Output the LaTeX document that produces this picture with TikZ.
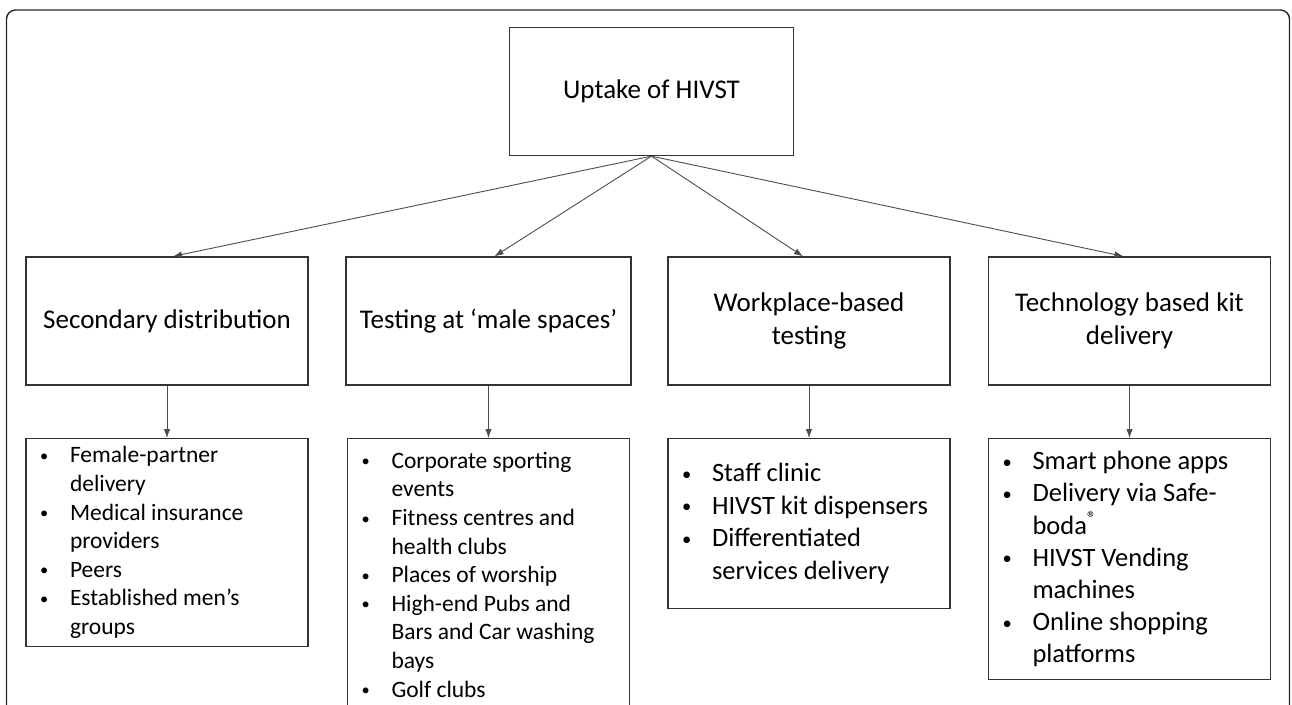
\documentclass[tikz,border=0pt]{standalone}
\usepackage{fontspec}
\usepackage{graphicx}
\setmainfont{Carlito}
\usetikzlibrary{arrows.meta}

\tikzset{
    box/.style={draw=black!80, line width=1.3pt, minimum width=282pt, inner xsep=14pt, inner ysep=0pt},
    head/.style={box, minimum height=128pt, align=flush center, font=\fontsize{27}{33}\selectfont},
    listbox/.style={box, anchor=north, text width=254pt, align=flush left},
    link/.style={draw=black!70, line width=0.9pt, -{Latex[length=9pt,width=6.5pt]}}
}
\newcommand{\bitem}[1]{\noindent\hangindent=30pt\hangafter=1\makebox[30pt][l]{\raisebox{0.06em}{\scalebox{0.7}{\textbullet}}}#1\par}

\begin{document}
\begin{tikzpicture}[x=1pt, y=-1pt]
                \useasboundingbox (0,0) rectangle (1292,704);

                % frame round the figure
                \draw[black!85, line width=1.4pt, rounded corners=9pt] (6.5,730) -- (6.5,10) -- (1289.5,10) -- (1289.5,730);

                \node[head, minimum width=284pt] (uptake) at (651.5,91.5) {Uptake of HIVST};

                \node[head] (secondary) at (167,321) {Secondary distribution};
                \node[head] (male) at (488.5,321) {Testing at `male spaces'};
                \node[head] (work) at (809,321) {Workplace-based\\testing};
                \node[head] (tech) at (1129.5,321) {Technology based kit\\delivery};

                \node[listbox, minimum height=208pt, font=\fontsize{23.5}{28.6}\selectfont] (secondarylist) at (167,438) {%
                    \bitem{Female-partner\newline delivery}
                    \bitem{Medical insurance\newline providers}
                    \bitem{Peers}
                    \bitem{Established men's\newline groups}};
                \node[listbox, minimum height=272pt, font=\fontsize{23.5}{28.6}\selectfont] (malelist) at (488.5,438) {%
                    \bitem{Corporate sporting\newline events}
                    \bitem{Fitness centres and\newline health clubs}
                    \bitem{Places of worship}
                    \bitem{High-end Pubs and\newline Bars and Car washing\newline bays}
                    \bitem{Golf clubs}};
                \node[listbox, minimum height=170pt, font=\fontsize{26.5}{32.5}\selectfont] (worklist) at (809,438) {%
                    \bitem{Staff clinic}
                    \bitem{HIVST kit dispensers}
                    \bitem{Differentiated\newline services delivery}};
                \node[listbox, minimum height=241pt, font=\fontsize{26.5}{32.2}\selectfont] (techlist) at (1129.5,438) {%
                    \bitem{Smart phone apps}
                    \bitem{Delivery via Safe-\newline boda\textsuperscript{\textregistered}}
                    \bitem{HIVST Vending\newline machines}
                    \bitem{Online shopping\newline platforms}};

                \draw[link] (uptake.south) -- ([xshift=6pt]secondary.north);
                \draw[link] (uptake.south) -- ([xshift=6pt]male.north);
                \draw[link] (uptake.south) -- ([xshift=-6pt]work.north);
                \draw[link] (uptake.south) -- ([xshift=-6pt]tech.north);

                \draw[link] (secondary) -- (secondarylist);
                \draw[link] (male) -- (malelist);
                \draw[link] (work) -- (worklist);
                \draw[link] (tech) -- (techlist);
            \end{tikzpicture}
\end{document}
